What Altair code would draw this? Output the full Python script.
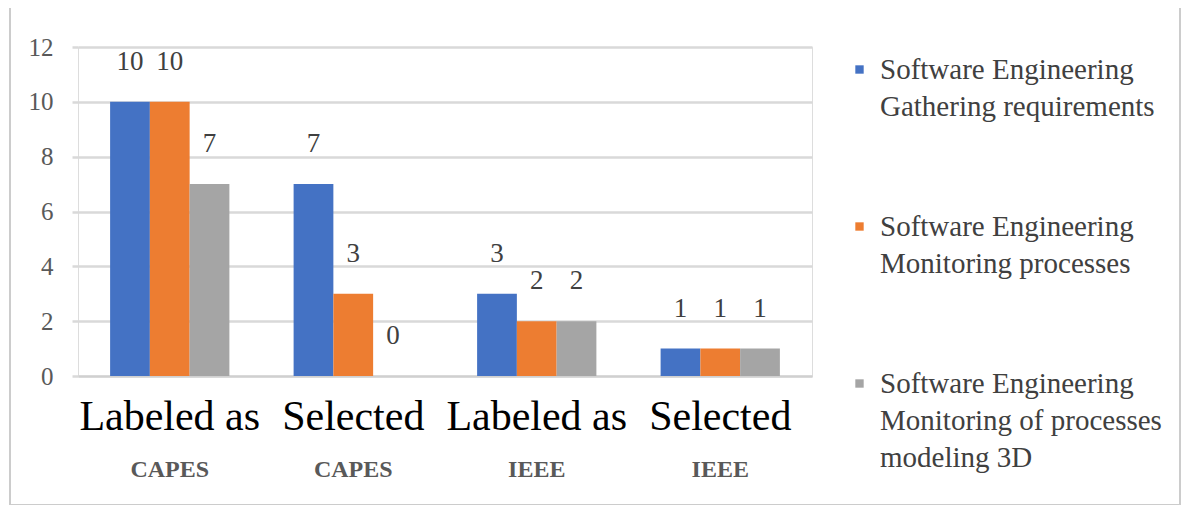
import altair as alt
import pandas as pd

categories = ["Labeled as\nCAPES", "Selected\nCAPES", "Labeled as\nIEEE", "Selected\nIEEE"]
sub_labels = ["CAPES", "CAPES", "IEEE", "IEEE"]
series = [
    "Software Engineering\nGathering requirements",
    "Software Engineering\nMonitoring processes",
    "Software Engineering\nMonitoring of processes\nmodeling 3D",
]
gathering = [10, 7, 3, 1]
monitoring = [10, 3, 2, 1]
modeling3d = [7, 0, 2, 1]
colors = ["#4472C4", "#ED7D31", "#A5A5A5"]

rows = []
for s, vals in zip(series, [gathering, monitoring, modeling3d]):
    for c, sub, v in zip(categories, sub_labels, vals):
        rows.append({"category": c, "sub": sub, "series": s, "value": v})
df = pd.DataFrame(rows)
sub_df = pd.DataFrame({"category": categories, "sub": sub_labels})

W, H = 734, 329
FONT = "Liberation Serif"

xscale = alt.Scale(domain=categories, paddingInner=0.35, paddingOuter=0.175)
yscale = alt.Scale(domain=[0, 12])

x_enc = alt.X(
    "category:N",
    scale=xscale,
    sort=categories,
    title=None,
    axis=alt.Axis(
        labelExpr="split(datum.label, '\\n')[0]",
        labelFont=FONT,
        labelFontSize=42,
        labelColor="#000000",
        labelAngle=0,
        labelPadding=20,
        labelBaseline="top",
        labelLimit=400,
        ticks=False,
        domainColor="#d0d0d0",
        domainWidth=2,
    ),
)

bars = alt.Chart(df).mark_bar().encode(
    x=x_enc,
    xOffset=alt.XOffset("series:N", sort=series, scale=alt.Scale(paddingInner=0, paddingOuter=0)),
    y=alt.Y(
        "value:Q",
        scale=yscale,
        title=None,
        axis=alt.Axis(
            values=[0, 2, 4, 6, 8, 10, 12],
            labelFont=FONT,
            labelFontSize=25,
            labelColor="#595959",
            labelPadding=19,
            domain=False,
            ticks=True,
            tickSize=6,
            tickColor="#d9d9d9",
            tickWidth=2.5,
            grid=True,
            gridColor="#d9d9d9",
            gridWidth=2.5,
        ),
    ),
    color=alt.Color(
        "series:N",
        sort=series,
        scale=alt.Scale(domain=series, range=colors),
        legend=alt.Legend(
            title=None,
            orient="none",
            legendX=767,
            legendY=8,
            labelExpr="split(datum.label, '\\n')",
            labelFont=FONT,
            labelFontSize=29,
            labelColor="#404040",
            labelLimit=400,
            symbolType="square",
            symbolSize=70,
            symbolStrokeWidth=0,
            rowPadding=90,
            labelOffset=6,
            labelBaseline="middle",
        ),
    ),
)

labels = alt.Chart(df).mark_text(
    font=FONT, fontSize=27, color="#404040", dy=-40, baseline="middle"
).encode(
    x=alt.X("category:N", scale=xscale, sort=categories),
    xOffset=alt.XOffset("series:N", sort=series, scale=alt.Scale(paddingInner=0, paddingOuter=0)),
    y=alt.Y("value:Q", scale=yscale),
    text=alt.Text("value:Q"),
)

subtext = alt.Chart(sub_df).mark_text(
    font=FONT, fontSize=24, fontWeight="bold", color="#595959", baseline="middle"
).encode(
    x=alt.X("category:N", scale=xscale, sort=categories),
    y=alt.value(H + 94),
    text="sub:N",
)

border = alt.Chart(sub_df).mark_rect(
    fill="transparent", stroke="#cccccc", strokeWidth=2
).encode(
    x=alt.value(-68), x2=alt.value(1102), y=alt.value(-40), y2=alt.value(458)
)

chart = alt.layer(border, bars, labels, subtext).properties(
    width=W,
    height=H,
    autosize=alt.AutoSizeParams(type="none"),
    padding={"left": 70, "top": 39, "right": 371, "bottom": 129},
).configure_view(stroke=None).configure(
    background="white",
    style={"guide-label": {"lineHeight": 37}},
)

chart.save("out.html", embed_options={"renderer": "svg", "actions": False})
